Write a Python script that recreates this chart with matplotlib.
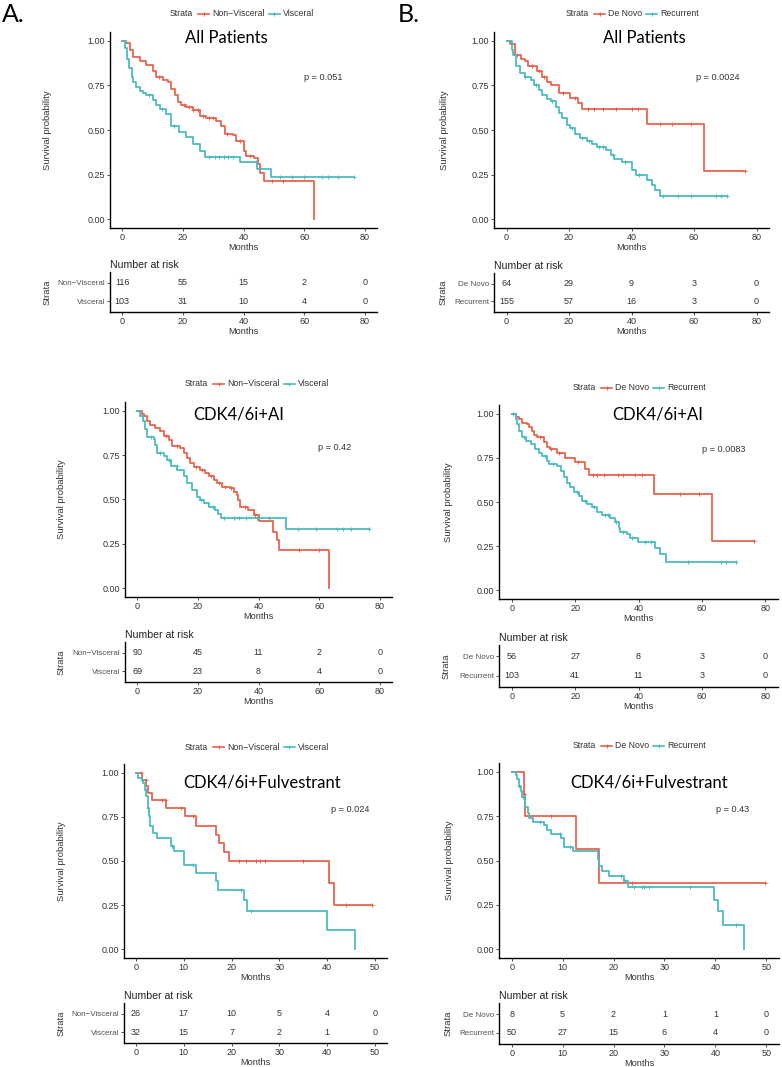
import numpy as np
import matplotlib
matplotlib.use('Agg')
import matplotlib.pyplot as plt
from matplotlib.lines import Line2D

plt.rcParams['font.family'] = ['Liberation Sans', 'DejaVu Sans']

W, H = 782, 1067
RED = '#E8634E'
TEAL = '#4DBBBF'
TXT = '#333333'

# ---- group names ----
SITE_GROUPS = ['Non\u2212Visceral', 'Visceral']
ONSET_GROUPS = ['De Novo', 'Recurrent']

# ---- A1: all patients, by metastatic site ----
A1_NV_T = [0, 1.4, 2.5, 3.6, 5.8, 8.0, 10.2, 11.3, 13.5, 15.1, 16.2, 17.3, 18.4, 19.5, 21.2, 23.3,
           25.5, 27.7, 31.0, 32.7, 33.8, 36.5, 37.6, 40.3, 40.9, 43.6, 44.7, 45.5, 46.6, 63.1]
A1_NV_S = [1.0, 0.99, 0.95, 0.91, 0.89, 0.865, 0.83, 0.80, 0.78, 0.77, 0.73, 0.695, 0.657, 0.64, 0.63, 0.61,
           0.58, 0.57, 0.55, 0.525, 0.477, 0.47, 0.44, 0.38, 0.354, 0.345, 0.307, 0.26, 0.212, 0.0]
A1_NV_END = 63.1
A1_NV_CENS = [12.0, 20.5, 22.0, 23.5, 25.0, 26.5, 28.5, 30.0, 34.5, 38.7, 42.0, 49.5, 53.0]
A1_V_T = [0, 1.0, 1.6, 2.2, 3.1, 3.6, 4.7, 5.8, 6.9, 8.0, 10.2, 11.3, 12.4, 14.6, 16.2, 18.9,
          21.2, 23.3, 25.5, 27.2, 38.7, 44.5, 49.1]
A1_V_S = [1.0, 0.96, 0.90, 0.85, 0.80, 0.77, 0.74, 0.72, 0.71, 0.695, 0.667, 0.638, 0.62, 0.59, 0.52, 0.49,
          0.46, 0.42, 0.38, 0.35, 0.318, 0.28, 0.235]
A1_V_END = 76.5
A1_V_CENS = [9.0, 13.0, 17.0, 28.5, 30.5, 32.0, 33.5, 35.0, 36.5, 44.0, 52.0, 56.0, 60.0, 66.0, 68.0, 71.0, 76.5]
A1_RISK_NV = [116, 55, 15, 2, 0]
A1_RISK_V = [103, 31, 10, 4, 0]

# ---- B1: all patients, de novo vs recurrent ----
B1_DN_T = [0, 1.0, 2.6, 4.7, 5.8, 6.8, 9.9, 11.5, 13.1, 14.1, 16.7, 20.4, 23.0, 24.1, 44.8, 63.3]
B1_DN_S = [1.0, 0.98, 0.92, 0.90, 0.885, 0.857, 0.83, 0.80, 0.77, 0.75, 0.705, 0.68, 0.65, 0.62, 0.533, 0.27]
B1_DN_END = 76.3
B1_DN_CENS = [3.5, 8.0, 10.5, 12.0, 18.0, 22.0, 26.0, 28.0, 31.0, 35.0, 40.0, 42.0, 49.0, 53.0, 59.0, 76.3]
B1_R_T = [0, 1.6, 2.1, 3.1, 4.2, 5.8, 7.8, 8.9, 10.5, 11.5, 13.1, 14.1, 15.7, 16.7, 17.8, 19.3, 20.4,
          22.0, 23.5, 25.6, 27.2, 28.8, 31.9, 33.5, 34.5, 37.1, 40.3, 41.3, 45.0, 46.5, 47.6, 49.2]
B1_R_S = [1.0, 0.95, 0.92, 0.857, 0.82, 0.80, 0.78, 0.753, 0.725, 0.697, 0.674, 0.66, 0.63, 0.593, 0.565,
          0.527, 0.51, 0.48, 0.457, 0.44, 0.42, 0.405, 0.386, 0.358, 0.34, 0.32, 0.273, 0.25, 0.22, 0.19,
          0.164, 0.13]
B1_R_END = 70.6
B1_R_CENS = [6.0, 9.5, 14.5, 21.0, 24.0, 26.5, 29.5, 31.0, 34.0, 38.0, 42.5, 50.0, 55.0, 59.0, 67.0, 68.5, 70.6]
B1_RISK_DN = [64, 29, 9, 3, 0]
B1_RISK_R = [155, 57, 16, 3, 0]

# ---- A2: CDK4/6i+AI, by metastatic site ----
A2_NV_T = [0, 1.6, 2.2, 3.3, 4.4, 6.0, 7.7, 8.8, 10.4, 11.5, 14.2, 15.3, 16.4, 17.5, 18.6, 20.8, 22.5,
           23.6, 25.2, 26.3, 27.9, 30.7, 31.8, 32.9, 33.4, 34.0, 36.7, 38.4, 40.0, 44.9, 46.0, 46.9, 63.3]
A2_NV_S = [1.0, 0.98, 0.97, 0.94, 0.92, 0.905, 0.886, 0.86, 0.835, 0.80, 0.79, 0.763, 0.734, 0.706, 0.683,
           0.668, 0.649, 0.63, 0.61, 0.592, 0.569, 0.564, 0.545, 0.526, 0.497, 0.46, 0.44, 0.41, 0.38,
           0.317, 0.27, 0.213, 0.0]
A2_NV_END = 63.3
A2_NV_CENS = [9.5, 13.0, 19.5, 21.5, 24.5, 27.0, 29.0, 31.0, 35.5, 39.0, 53.5, 60.0]
A2_V_T = [0, 1.1, 2.0, 2.7, 3.3, 5.5, 6.0, 6.6, 8.8, 9.9, 11.0, 13.2, 15.3, 16.4, 18.1, 19.7, 20.8,
          21.9, 23.6, 25.8, 26.8, 27.6, 49.1]
A2_V_S = [1.0, 0.97, 0.943, 0.896, 0.85, 0.84, 0.81, 0.763, 0.744, 0.725, 0.687, 0.668, 0.63, 0.592,
          0.554, 0.516, 0.497, 0.478, 0.46, 0.44, 0.42, 0.393, 0.336]
A2_V_END = 76.5
A2_V_CENS = [4.5, 7.5, 10.5, 13.0, 21.0, 25.0, 28.5, 32.0, 33.5, 36.0, 39.5, 43.5, 53.0, 59.0, 66.0,
             68.0, 70.5, 76.5]
A2_RISK_NV = [90, 45, 11, 2, 0]
A2_RISK_V = [69, 23, 8, 4, 0]

# ---- B2: CDK4/6i+AI, de novo vs recurrent ----
B2_DN_T = [0, 1.3, 2.3, 3.3, 4.9, 5.4, 6.5, 7.0, 8.1, 10.1, 11.2, 12.2, 14.3, 16.9, 20.1, 23.2, 24.3,
           45.0, 63.3]
B2_DN_S = [1.0, 0.98, 0.97, 0.95, 0.943, 0.924, 0.90, 0.88, 0.867, 0.84, 0.81, 0.80, 0.776, 0.75, 0.725,
           0.687, 0.655, 0.545, 0.279]
B2_DN_END = 76.3
B2_DN_CENS = [9.0, 12.5, 15.0, 21.0, 25.5, 27.0, 29.0, 33.5, 35.0, 39.0, 41.0, 53.0, 59.0, 76.3]
B2_R_T = [0, 1.3, 1.8, 2.3, 3.3, 4.4, 6.0, 7.5, 8.6, 9.6, 11.2, 11.7, 14.3, 15.4, 16.4, 17.5, 18.5,
          19.6, 21.1, 22.2, 23.7, 25.3, 26.9, 28.4, 31.1, 32.6, 33.7, 34.2, 36.3, 37.3, 39.9, 45.2,
          46.7, 48.8]
B2_R_S = [1.0, 0.97, 0.943, 0.905, 0.867, 0.848, 0.83, 0.80, 0.78, 0.763, 0.734, 0.715, 0.706, 0.677,
          0.64, 0.61, 0.583, 0.558, 0.535, 0.507, 0.49, 0.469, 0.446, 0.427, 0.41, 0.387, 0.355, 0.33,
          0.317, 0.298, 0.273, 0.237, 0.203, 0.16]
B2_R_END = 70.8
B2_R_CENS = [0.5, 4.0, 10.5, 13.0, 20.5, 23.0, 26.0, 29.5, 30.5, 33.0, 35.0, 38.0, 42.0, 44.0, 55.5,
             66.0, 67.5, 70.8]
B2_RISK_DN = [56, 27, 8, 3, 0]
B2_RISK_R = [103, 41, 11, 3, 0]

# ---- A3: CDK4/6i+Fulvestrant, by metastatic site ----
A3_NV_T = [0, 1.2, 2.2, 2.5, 3.4, 6.2, 10.3, 12.5, 16.8, 17.3, 18.4, 19.4, 40.4, 41.5]
A3_NV_S = [1.0, 0.962, 0.923, 0.885, 0.846, 0.80, 0.754, 0.70, 0.65, 0.60, 0.55, 0.50, 0.375, 0.25]
A3_NV_END = 49.4
A3_NV_CENS = [1.0, 2.0, 5.5, 6.0, 9.5, 12.0, 21.5, 23.0, 25.0, 26.0, 27.0, 35.0, 44.0, 49.4]
A3_V_T = [0, 0.5, 1.2, 1.5, 1.9, 2.2, 2.5, 2.8, 3.0, 3.6, 4.3, 7.4, 8.0, 10.1, 12.5, 16.8, 17.2, 22.5,
          23.2, 39.9, 45.9]
A3_V_S = [1.0, 0.97, 0.962, 0.943, 0.905, 0.867, 0.80, 0.754, 0.697, 0.659, 0.63, 0.587, 0.555, 0.479,
          0.432, 0.384, 0.337, 0.28, 0.214, 0.106, 0.0]
A3_V_END = 45.9
A3_V_CENS = [1.3, 2.0, 2.6, 7.5, 12.0, 22.0, 24.0]
A3_RISK_NV = [26, 17, 10, 5, 4, 0]
A3_RISK_V = [32, 15, 7, 2, 1, 0]

# ---- B3: CDK4/6i+Fulvestrant, de novo vs recurrent ----
B3_DN_T = [0, 2.4, 2.6, 12.6, 17.2]
B3_DN_S = [1.0, 0.875, 0.75, 0.5625, 0.375]
B3_DN_END = 49.7
B3_DN_CENS = [2.5, 7.7, 23.7, 49.7]
B3_R_T = [0, 0.8, 1.1, 1.4, 1.8, 2.1, 2.6, 3.1, 3.4, 4.1, 6.4, 7.0, 7.7, 9.6, 10.2, 12.1, 16.9, 17.2,
          17.8, 19.2, 22.1, 22.8, 39.7, 40.5, 41.5, 45.7]
B3_R_S = [1.0, 0.98, 0.96, 0.92, 0.89, 0.86, 0.80, 0.77, 0.74, 0.72, 0.70, 0.67, 0.647, 0.628, 0.577,
          0.553, 0.506, 0.468, 0.44, 0.41, 0.383, 0.351, 0.279, 0.213, 0.138, 0.0]
B3_R_END = 45.7
B3_R_CENS = [1.5, 2.3, 5.5, 9.5, 11.5, 21.5, 22.3, 24.0, 25.5, 26.0, 27.0, 35.0, 44.0]
B3_RISK_DN = [8, 5, 2, 1, 1, 0]
B3_RISK_R = [50, 27, 15, 6, 4, 0]

TITLES = ['All Patients', 'All Patients', 'CDK4/6i+AI', 'CDK4/6i+AI',
          'CDK4/6i+Fulvestrant', 'CDK4/6i+Fulvestrant']
PVALS = ['p = 0.051', 'p = 0.0024', 'p = 0.42', 'p = 0.0083', 'p = 0.024', 'p = 0.43']


def box(l, t, r, b):
    """pixel box -> figure rect"""
    return [l / W, 1 - b / H, (r - l) / W, (b - t) / H]


def ftext(fig, x, y, s, **kw):
    return fig.text(x / W, 1 - y / H, s, **kw)


def km_curve(ax, t, s, end, cens, color):
    t = np.asarray(t)
    s = np.asarray(s)
    ax.step(np.append(t, end), np.append(s, s[-1]), where='post', color=color, lw=1.3)
    cens = np.asarray(cens)
    idx = np.searchsorted(t, cens, side='right') - 1
    ax.plot(cens, s[idx], ls='none', marker='+', color=color, ms=3.5, mew=0.7)


def style_axes(ax):
    for side in ['top', 'right']:
        ax.spines[side].set_visible(False)
    for side in ['left', 'bottom']:
        ax.spines[side].set_linewidth(1.0)
    ax.tick_params(length=2.5, width=0.6, color=TXT, labelcolor=TXT, labelsize=6.5, pad=1.0)


def draw_legend(fig, x, y, names):
    r = fig.canvas.get_renderer()
    t = ftext(fig, x, y, 'Strata', fontsize=6.3, color=TXT, va='center')
    x += t.get_window_extent(r).width + 5
    for name, col in zip(names, [RED, TEAL]):
        fig.add_artist(Line2D([x / W, (x + 11) / W], [1 - y / H] * 2, color=col, lw=1.2))
        fig.add_artist(Line2D([(x + 5.5) / W], [1 - y / H], color=col, marker='+', ms=3, mew=0.7))
        x += 14
        t = ftext(fig, x, y, name, fontsize=6.3, color=TXT, va='center')
        x += t.get_window_extent(r).width + 4


def draw_panel(fig, lay, names, curves, risk, xmax, xstep, title, pval):
    xlim = (-0.05 * xmax, 1.05 * xmax)
    ticks = np.arange(0, xmax + 1, xstep)
    l, t, r, b = lay['main']

    ax = fig.add_axes(box(l, t, r, b))
    for (ct, cs, cend, ccens), col in zip(curves, [RED, TEAL]):
        km_curve(ax, ct, cs, cend, ccens, col)
    ax.set_xlim(*xlim)
    ax.set_ylim(-0.05, 1.05)
    ax.set_xticks(ticks)
    ax.set_yticks([0, 0.25, 0.5, 0.75, 1.0])
    ax.set_yticklabels(['0.00', '0.25', '0.50', '0.75', '1.00'])
    style_axes(ax)
    ax.set_xlabel('Months', fontsize=6.6, color=TXT, labelpad=0.5)
    ax.set_ylabel('Survival probability', fontsize=6.8, color=TXT)
    ax.yaxis.set_label_coords((lay['ylab'] - l) / (r - l), 0.5)

    ftext(fig, lay['title'][0], lay['title'][1], title, family='Lato', fontsize=12,
          ha='center', va='center', color='black')
    ftext(fig, lay['p'][0], lay['p'][1], pval, fontsize=6.6, ha='center', va='center', color=TXT)
    draw_legend(fig, lay['leg'][0], lay['leg'][1], names)

    # risk table
    rl, rt, rr, rb = lay['risk']
    rax = fig.add_axes(box(rl, rt, rr, rb))
    rax.set_xlim(*xlim)
    rax.set_ylim(0.4, 2.6)
    for row_y, nums in zip([2, 1], risk):
        for xt, n in zip(ticks, nums):
            rax.text(xt, row_y, str(n), ha='center', va='center', fontsize=6.5, color=TXT)
    rax.set_xticks(ticks)
    rax.set_yticks([2, 1])
    rax.set_yticklabels(names)
    for lab, col in zip(rax.get_yticklabels(), [RED, TEAL]):
        lab.set_color(col)
        lab.set_alpha(0.85)
    style_axes(rax)
    rax.tick_params(axis='y', labelsize=5.8)
    rax.set_xlabel('Months', fontsize=6.6, color=TXT, labelpad=0.5)
    rax.set_ylabel('Strata', fontsize=6.8, color=TXT)
    rax.yaxis.set_label_coords((lay['strata'] - rl) / (rr - rl), 0.5)
    rax.set_title('Number at risk', loc='left', fontsize=7.6, color='#222222', pad=3)


fig = plt.figure(figsize=(W / 100, H / 100), dpi=100)

# pixel layout of each panel
LAYOUT = [
    dict(main=(110, 32, 377, 228), risk=(110, 272, 377, 312), ylab=52, strata=52,
         title=(226, 38), p=(323, 77), leg=(170, 14)),
    dict(main=(494, 32, 769, 228), risk=(494, 273, 769, 312), ylab=449, strata=448,
         title=(644, 38), p=(718, 77), leg=(566, 14)),
    dict(main=(125, 402, 392, 597), risk=(125, 642, 392, 682), ylab=66, strata=66,
         title=(239, 415), p=(335, 447), leg=(185, 384)),
    dict(main=(499, 405, 778, 599), risk=(499, 645, 778, 687), ylab=453, strata=451,
         title=(658, 415), p=(724, 449), leg=(573, 388)),
    dict(main=(124, 764, 387, 958), risk=(124, 1003, 387, 1043), ylab=66, strata=66,
         title=(262, 782), p=(350, 809), leg=(185, 747)),
    dict(main=(499, 763, 779, 958), risk=(499, 1003, 779, 1044), ylab=454, strata=453,
         title=(649, 782), p=(733, 809), leg=(573, 746)),
]

PANELS = [
    (SITE_GROUPS, [(A1_NV_T, A1_NV_S, A1_NV_END, A1_NV_CENS), (A1_V_T, A1_V_S, A1_V_END, A1_V_CENS)],
     [A1_RISK_NV, A1_RISK_V], 80, 20),
    (ONSET_GROUPS, [(B1_DN_T, B1_DN_S, B1_DN_END, B1_DN_CENS), (B1_R_T, B1_R_S, B1_R_END, B1_R_CENS)],
     [B1_RISK_DN, B1_RISK_R], 80, 20),
    (SITE_GROUPS, [(A2_NV_T, A2_NV_S, A2_NV_END, A2_NV_CENS), (A2_V_T, A2_V_S, A2_V_END, A2_V_CENS)],
     [A2_RISK_NV, A2_RISK_V], 80, 20),
    (ONSET_GROUPS, [(B2_DN_T, B2_DN_S, B2_DN_END, B2_DN_CENS), (B2_R_T, B2_R_S, B2_R_END, B2_R_CENS)],
     [B2_RISK_DN, B2_RISK_R], 80, 20),
    (SITE_GROUPS, [(A3_NV_T, A3_NV_S, A3_NV_END, A3_NV_CENS), (A3_V_T, A3_V_S, A3_V_END, A3_V_CENS)],
     [A3_RISK_NV, A3_RISK_V], 50, 10),
    (ONSET_GROUPS, [(B3_DN_T, B3_DN_S, B3_DN_END, B3_DN_CENS), (B3_R_T, B3_R_S, B3_R_END, B3_R_CENS)],
     [B3_RISK_DN, B3_RISK_R], 50, 10),
]

for lay, (names, curves, risk, xmax, xstep), title, pval in zip(LAYOUT, PANELS, TITLES, PVALS):
    draw_panel(fig, lay, names, curves, risk, xmax, xstep, title, pval)

# panel letters
ftext(fig, 2, 15, 'A.', family='Lato', fontsize=18, va='center', color='black')
ftext(fig, 398, 15, 'B.', family='Lato', fontsize=18, va='center', color='black')

fig.savefig('out.png', dpi=100)
